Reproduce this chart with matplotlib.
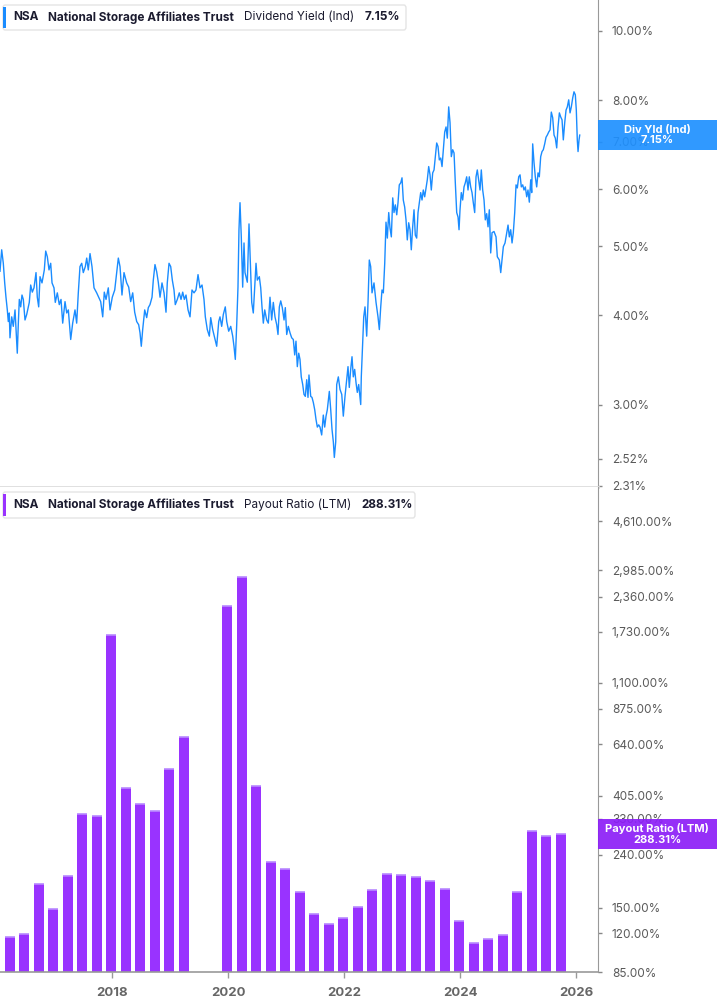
import matplotlib
matplotlib.use("Agg")
import matplotlib.pyplot as plt
from matplotlib.patches import Rectangle, FancyBboxPatch
from matplotlib.ticker import NullLocator

plt.rcParams['font.family'] = ['Inter', 'DejaVu Sans']

# dividend yield (%): (decimal year, value)
yield_points = [
    (2016.066, 4.61), (2016.095, 4.94), (2016.123, 4.73), (2016.147, 4.44), (2016.169, 4.24),
    (2016.192, 4.07), (2016.209, 3.92), (2016.226, 4.03), (2016.238, 3.72), (2016.268, 3.98),
    (2016.295, 3.86), (2016.325, 4.07), (2016.342, 3.82), (2016.364, 3.54), (2016.382, 3.90),
    (2016.399, 4.21), (2016.423, 4.11), (2016.445, 4.27), (2016.468, 4.21), (2016.497, 3.94),
    (2016.526, 4.01), (2016.571, 4.17), (2016.595, 4.41), (2016.623, 4.31), (2016.652, 4.37),
    (2016.687, 4.59), (2016.709, 4.24), (2016.733, 4.11), (2016.756, 4.53), (2016.790, 4.44),
    (2016.830, 4.63), (2016.854, 4.92), (2016.882, 4.83), (2016.911, 4.63), (2016.940, 4.73),
    (2016.963, 4.44), (2016.997, 4.37),
    (2017.019, 4.17), (2017.054, 4.30), (2017.088, 4.14), (2017.118, 4.21), (2017.147, 3.90),
    (2017.187, 4.18), (2017.216, 4.03), (2017.244, 4.07), (2017.285, 3.70), (2017.319, 3.90),
    (2017.359, 4.07), (2017.388, 3.90), (2017.416, 4.30), (2017.445, 4.68), (2017.475, 4.73),
    (2017.502, 4.59), (2017.537, 4.68), (2017.561, 4.81), (2017.588, 4.63), (2017.618, 4.88),
    (2017.652, 4.68), (2017.687, 4.37), (2017.733, 4.30), (2017.768, 4.24), (2017.802, 4.18),
    (2017.837, 3.98), (2017.864, 4.31), (2017.894, 4.21), (2017.933, 4.37), (2017.963, 4.07),
    (2018.002, 4.24), (2018.044, 4.34), (2018.078, 4.59), (2018.106, 4.81), (2018.135, 4.68),
    (2018.169, 4.27), (2018.204, 4.59), (2018.250, 4.44), (2018.285, 4.38), (2018.319, 4.18),
    (2018.354, 4.30), (2018.388, 4.04), (2018.423, 3.92), (2018.457, 3.88), (2018.480, 3.78),
    (2018.502, 3.62), (2018.526, 3.82), (2018.561, 4.07), (2018.595, 3.97), (2018.623, 4.10),
    (2018.652, 4.14), (2018.687, 4.24), (2018.709, 4.48), (2018.738, 4.71), (2018.768, 4.60),
    (2018.795, 4.45), (2018.825, 4.24), (2018.859, 4.44), (2018.894, 4.30), (2018.928, 4.04),
    (2018.950, 4.44), (2018.980, 4.73),
    (2019.009, 4.68), (2019.037, 4.48), (2019.066, 4.34), (2019.088, 4.14), (2019.123, 4.21),
    (2019.157, 4.30), (2019.187, 4.21), (2019.216, 4.31), (2019.244, 4.21), (2019.273, 4.27),
    (2019.308, 4.07), (2019.342, 3.98), (2019.376, 4.34), (2019.411, 4.30), (2019.445, 4.34),
    (2019.480, 4.56), (2019.514, 4.37), (2019.549, 4.41), (2019.583, 4.21), (2019.606, 3.98),
    (2019.640, 3.82), (2019.675, 3.74), (2019.699, 3.97), (2019.733, 3.82), (2019.768, 3.72),
    (2019.802, 3.62), (2019.837, 3.92), (2019.859, 3.98), (2019.888, 3.86), (2019.916, 4.01),
    (2019.950, 4.11), (2019.975, 3.92),
    (2020.009, 3.80), (2020.044, 3.86), (2020.078, 3.74), (2020.100, 3.62), (2020.123, 3.47),
    (2020.147, 3.88), (2020.169, 4.38), (2020.186, 5.27), (2020.204, 5.75), (2020.226, 5.15),
    (2020.250, 4.38), (2020.273, 5.05), (2020.290, 4.59), (2020.330, 4.45), (2020.359, 5.37),
    (2020.406, 4.17), (2020.433, 4.03), (2020.480, 4.73), (2020.502, 4.48), (2020.537, 4.53),
    (2020.561, 4.37), (2020.583, 4.11), (2020.606, 3.90), (2020.630, 4.07), (2020.664, 3.94),
    (2020.692, 3.90), (2020.721, 4.24), (2020.750, 3.94), (2020.778, 4.17), (2020.807, 3.98),
    (2020.837, 3.88), (2020.859, 3.76), (2020.882, 4.11), (2020.906, 4.19), (2020.933, 4.10),
    (2020.963, 3.94), (2020.985, 4.10),
    (2021.009, 3.76), (2021.037, 3.86), (2021.066, 3.78), (2021.095, 3.72), (2021.123, 3.70),
    (2021.147, 3.52), (2021.169, 3.68), (2021.192, 3.39), (2021.216, 3.54), (2021.238, 3.47),
    (2021.260, 3.28), (2021.285, 3.20), (2021.307, 3.10), (2021.330, 3.08), (2021.354, 3.25),
    (2021.376, 3.07), (2021.393, 3.30), (2021.423, 3.08), (2021.445, 3.07), (2021.468, 3.02),
    (2021.492, 2.95), (2021.514, 2.86), (2021.537, 2.79), (2021.561, 2.81), (2021.583, 2.79),
    (2021.612, 2.72), (2021.640, 2.90), (2021.664, 2.79), (2021.687, 2.89), (2021.709, 2.95),
    (2021.744, 3.13), (2021.768, 2.95), (2021.790, 2.77), (2021.813, 2.66), (2021.830, 2.53),
    (2021.854, 2.66), (2021.871, 3.20), (2021.899, 3.28), (2021.928, 3.15), (2021.958, 3.10),
    (2021.985, 2.89),
    (2022.014, 3.08), (2022.043, 3.25), (2022.066, 3.39), (2022.088, 3.17), (2022.112, 3.36),
    (2022.135, 3.50), (2022.157, 3.28), (2022.181, 3.36), (2022.204, 3.22), (2022.226, 3.12),
    (2022.250, 3.20), (2022.285, 3.00), (2022.295, 3.28), (2022.319, 3.66), (2022.337, 3.98),
    (2022.359, 4.11), (2022.388, 3.74), (2022.411, 4.17), (2022.433, 4.78), (2022.457, 4.68),
    (2022.480, 4.30), (2022.514, 4.44), (2022.549, 4.17), (2022.583, 3.98), (2022.606, 3.82),
    (2022.630, 4.11), (2022.652, 4.34), (2022.675, 4.30), (2022.699, 4.73), (2022.721, 5.40),
    (2022.744, 5.13), (2022.768, 5.57), (2022.790, 5.30), (2022.813, 5.15), (2022.837, 5.84),
    (2022.859, 5.57), (2022.882, 5.71), (2022.906, 5.53), (2022.928, 5.75), (2022.950, 6.09),
    (2022.975, 6.13), (2022.997, 6.23),
    (2023.019, 5.80), (2023.043, 5.67), (2023.066, 5.44), (2023.088, 5.10), (2023.112, 5.39),
    (2023.135, 5.27), (2023.157, 4.94), (2023.181, 5.32), (2023.204, 5.62), (2023.226, 5.18),
    (2023.250, 5.13), (2023.273, 5.57), (2023.295, 5.75), (2023.319, 5.94), (2023.342, 5.80),
    (2023.364, 5.99), (2023.388, 5.86), (2023.411, 6.03), (2023.433, 6.19), (2023.457, 6.46),
    (2023.480, 6.29), (2023.502, 5.99), (2023.526, 6.33), (2023.549, 6.39), (2023.571, 6.67),
    (2023.595, 6.97), (2023.618, 6.89), (2023.640, 6.60), (2023.664, 6.64), (2023.687, 6.46),
    (2023.709, 6.82), (2023.733, 7.22), (2023.756, 7.34), (2023.778, 7.08), (2023.802, 7.83),
    (2023.825, 7.44), (2023.847, 6.67), (2023.871, 6.82), (2023.894, 6.75), (2023.916, 6.13),
    (2023.940, 5.57), (2023.963, 5.49), (2023.980, 5.27), (2023.997, 5.62),
    (2024.019, 5.94), (2024.043, 5.80), (2024.066, 6.05), (2024.088, 6.13), (2024.112, 6.25),
    (2024.135, 5.99), (2024.157, 6.25), (2024.181, 6.05), (2024.204, 5.94), (2024.226, 5.75),
    (2024.250, 5.57), (2024.273, 6.25), (2024.295, 6.39), (2024.319, 6.19), (2024.342, 5.99),
    (2024.364, 6.39), (2024.388, 5.99), (2024.411, 5.80), (2024.433, 5.44), (2024.457, 5.55),
    (2024.480, 5.32), (2024.502, 5.62), (2024.526, 4.89), (2024.549, 5.22), (2024.583, 5.24),
    (2024.618, 5.15), (2024.640, 4.83), (2024.675, 4.78), (2024.699, 4.59), (2024.721, 4.78),
    (2024.744, 4.99), (2024.773, 5.05), (2024.802, 5.22), (2024.825, 5.35), (2024.847, 5.15),
    (2024.871, 5.27), (2024.894, 5.05), (2024.916, 5.22), (2024.940, 5.57), (2024.963, 6.09),
    (2024.985, 6.03),
    (2025.009, 6.25), (2025.032, 6.29), (2025.054, 6.05), (2025.078, 6.09), (2025.100, 5.99),
    (2025.123, 6.05), (2025.147, 5.86), (2025.169, 5.99), (2025.192, 5.76), (2025.216, 6.19),
    (2025.233, 5.94), (2025.250, 6.95), (2025.273, 6.54), (2025.295, 6.25), (2025.319, 6.05),
    (2025.342, 6.33), (2025.364, 6.25), (2025.388, 6.67), (2025.411, 6.78), (2025.433, 6.82),
    (2025.457, 6.95), (2025.480, 7.10), (2025.502, 7.15), (2025.526, 7.22), (2025.549, 7.27),
    (2025.571, 7.70), (2025.595, 7.56), (2025.618, 7.15), (2025.640, 7.08), (2025.664, 6.86),
    (2025.687, 7.34), (2025.710, 7.68), (2025.733, 7.58), (2025.756, 7.51), (2025.778, 7.04),
    (2025.802, 7.44), (2025.825, 7.75), (2025.847, 7.83), (2025.871, 8.01), (2025.894, 7.68),
    (2025.916, 7.83), (2025.940, 8.06), (2025.962, 8.22), (2025.985, 8.14),
    (2026.002, 7.75), (2026.019, 7.04), (2026.032, 6.78), (2026.049, 7.04), (2026.061, 7.15),
]
yield_dates = [p[0] for p in yield_points]
yield_values = [p[1] for p in yield_points]

# payout ratio LTM (%), quarterly (2019 Q2/Q3 missing)
payout_dates = [2016.23, 2016.48, 2016.73, 2016.98, 2017.23, 2017.48, 2017.73, 2017.98,
                2018.23, 2018.48, 2018.73, 2018.98, 2019.23, 2019.98,
                2020.23, 2020.48, 2020.73, 2020.98, 2021.23, 2021.48, 2021.73, 2021.98,
                2022.23, 2022.48, 2022.73, 2022.98, 2023.23, 2023.48, 2023.73, 2023.98,
                2024.23, 2024.48, 2024.73, 2024.98, 2025.23, 2025.48, 2025.73]
payout_values = [115.6, 118.7, 186, 148, 199, 344, 337, 1680,
                 434, 376, 354, 513, 680, 2181,
                 2800, 440, 225, 212, 172, 142, 130, 137,
                 151, 175, 203, 201, 197, 191, 178, 134,
                 110, 114, 118, 172, 296, 283, 288.31]

top_ticks = [10, 8, 7, 6, 5, 4, 3, 2.52, 2.31]
top_labels = ['10.00%', '8.00%', '7.00%', '6.00%', '5.00%', '4.00%', '3.00%', '2.52%', '2.31%']
bot_ticks = [4610, 2985, 2360, 1730, 1100, 875, 640, 405, 330, 240, 150, 120, 85]
bot_labels = ['4,610.00%', '2,985.00%', '2,360.00%', '1,730.00%', '1,100.00%', '875.00%',
              '640.00%', '405.00%', '330.00%', '240.00%', '150.00%', '120.00%', '85.00%']
year_ticks = [2018, 2020, 2022, 2024, 2026]

BLUE = '#1a8cff'
PURPLE = '#9933ff'
W, H = 717, 1005


def fx(px):
    return px / W


def fy(py):
    return 1 - py / H


fig = plt.figure(figsize=(W / 100, H / 100), dpi=100)
ax1 = fig.add_axes([0, fy(487), fx(598), 487 / H])
ax2 = fig.add_axes([0, fy(972), fx(598), (972 - 487) / H])

# top: dividend yield
ax1.plot(yield_dates, yield_values, color=BLUE, lw=1.0)
ax1.set_yscale('log')
ax1.set_ylim(2.30, 11.05)
ax1.set_xlim(2016.066, 2026.376)

# bottom: payout ratio bars
ax2.bar(payout_dates, payout_values, width=0.172, color=PURPLE, zorder=2)
ax2.hlines(payout_values, [d - 0.086 for d in payout_dates], [d + 0.086 for d in payout_dates],
           color='#b98aff', lw=1.2, zorder=3)
ax2.set_yscale('log')
ax2.set_ylim(85, 6235)
ax2.set_xlim(2016.066, 2026.376)

for ax, ticks, labels in [(ax1, top_ticks, top_labels), (ax2, bot_ticks, bot_labels)]:
    ax.yaxis.tick_right()
    ax.set_yticks(ticks, labels)
    ax.yaxis.set_minor_locator(NullLocator())
    ax.tick_params(axis='y', which='both', direction='out', length=3, width=1,
                   color='#888888', labelcolor='#5a5a5a', labelsize=8.5, pad=7)
    ax.spines['top'].set_visible(False)
    ax.spines['left'].set_visible(False)
    ax.spines['right'].set_color('#999999')
    ax.set_facecolor('white')

ax1.tick_params(axis='x', bottom=False, labelbottom=False)
ax1.spines['bottom'].set_color('#dddddd')
ax1.spines['bottom'].set_linewidth(2)

ax2.xaxis.set_minor_locator(NullLocator())
ax2.set_xticks(year_ticks, [str(y) for y in year_ticks])
ax2.tick_params(axis='x', direction='out', length=4, width=1, color='#999999',
                labelcolor='#666666', labelsize=9.5, pad=7)
for lbl in ax2.get_xticklabels():
    lbl.set_fontweight('bold')
ax2.spines['bottom'].set_color('#999999')
ax2.spines['bottom'].set_linewidth(1.2)


# last-value boxes on the right axis (the tick label under them shows through faintly)
def value_box(ax, value, color, text):
    _, ypix = ax.transData.transform((2020, value))
    yf = ypix / fig.bbox.height
    fig.add_artist(Rectangle((fx(598), yf - 15 / H), 1 - fx(598), 30 / H,
                             transform=fig.transFigure, facecolor=color, edgecolor='none',
                             alpha=0.92, zorder=5))
    fig.text(fx(657), yf, text, ha='center', va='center', color='white', fontsize=8,
             fontweight='bold', linespacing=1.05, zorder=6)


value_box(ax1, yield_values[-1], '#1e90ff', 'Div Yld (Ind)\n7.15%')
value_box(ax2, payout_values[-1], '#8c1ef7', 'Payout Ratio (LTM)\n288.31%')


# legend boxes
renderer = fig.canvas.get_renderer()


def legend_box(top, bottom, right, color, parts):
    fig.add_artist(FancyBboxPatch((fx(3), fy(bottom)), fx(right - 3), (bottom - top) / H,
                                  boxstyle='round,pad=0,rounding_size=0.003',
                                  transform=fig.transFigure, facecolor='white',
                                  edgecolor='#e4e4e4', lw=1, zorder=4))
    fig.add_artist(Rectangle((fx(3), fy(bottom - 2)), fx(3), (bottom - top - 4) / H,
                             transform=fig.transFigure, facecolor=color, edgecolor='none', zorder=5))
    x = 13
    yc = (top + bottom) / 2
    for s, w in parts:
        t = fig.text(fx(x), fy(yc), s, fontsize=8.5, fontweight=w, color='#1b1b2f',
                     ha='left', va='center', zorder=6)
        x = t.get_window_extent(renderer).x1 + 10


legend_box(5, 30, 406, BLUE, [('NSA', 'bold'), ('National Storage Affiliates Trust', 'bold'),
                              ('Dividend Yield (Ind)', 'normal'), ('7.15%', 'bold')])
legend_box(492, 518, 415, PURPLE, [('NSA', 'bold'), ('National Storage Affiliates Trust', 'bold'),
                                   ('Payout Ratio (LTM)', 'normal'), ('288.31%', 'bold')])

fig.savefig('out.png', dpi=100)
